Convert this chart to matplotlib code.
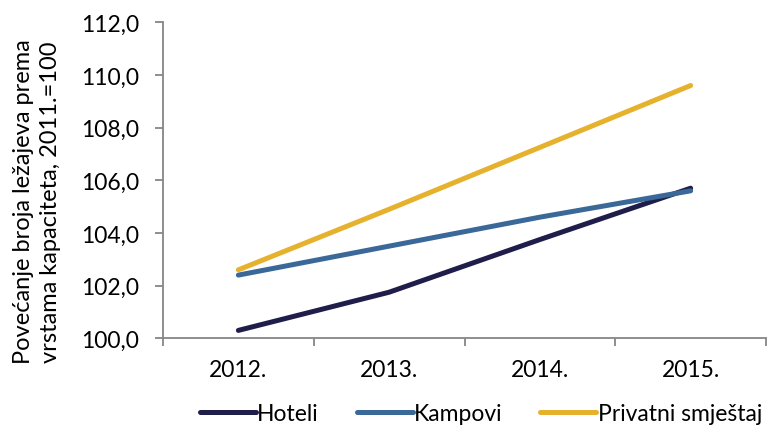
import matplotlib
matplotlib.use("Agg")
import matplotlib.pyplot as plt
from matplotlib.ticker import FuncFormatter, FixedLocator

plt.rcParams['font.family'] = ['Lato', 'DejaVu Sans']

years = ["2012.", "2013.", "2014.", "2015."]
hoteli = [100.3, 101.75, 103.75, 105.7]
kampovi = [102.4, 103.5, 104.6, 105.6]
privatni = [102.6, 104.9, 107.25, 109.6]
series_names = ["Hoteli", "Kampovi", "Privatni smještaj"]
colors = ["#1f1d4a", "#3a6898", "#e6b12d"]
y_label = "Povećanje broja ležajeva prema\nvrstama kapaciteta, 2011.=100"

fs = 16.5
fig = plt.figure(figsize=(7.72, 4.27), dpi=100)
ax = fig.add_axes([163 / 772, 1 - 339.3 / 427, 603 / 772, 316 / 427])

x = list(range(len(years)))
for vals, name, c in zip([hoteli, kampovi, privatni], series_names, colors):
    ax.plot(x, vals, color=c, lw=3.6, solid_capstyle='round', label=name)

ax.set_xlim(-0.5, len(years) - 0.5)
ax.set_ylim(100, 112)
ax.set_yticks([100, 102, 104, 106, 108, 110, 112])
ax.yaxis.set_major_formatter(FuncFormatter(lambda v, p: f"{v:.1f}".replace('.', ',')))

ax.xaxis.set_major_locator(FixedLocator([i - 0.5 for i in range(len(years) + 1)]))
ax.xaxis.set_major_formatter(FuncFormatter(lambda v, p: ""))
ax.xaxis.set_minor_locator(FixedLocator(x))
ax.set_xticklabels(years, minor=True)
ax.tick_params(axis='x', which='minor', length=0, labelsize=fs, pad=15, colors='#000000')
ax.tick_params(axis='x', which='major', length=6, width=1.3, color='#868686')
ax.tick_params(axis='y', length=6, width=1.3, color='#868686', labelsize=fs, pad=11)

for s in ['top', 'right']:
    ax.spines[s].set_visible(False)
for s in ['left', 'bottom']:
    ax.spines[s].set_color('#868686')
    ax.spines[s].set_linewidth(1.3)

fig.text(37 / 772, 1 - 202 / 427, y_label, rotation=90, ha='center', va='center',
         fontsize=17, linespacing=1.38)

fig.legend(loc='center left', bbox_to_anchor=(200 / 772, 1 - 415 / 427), ncol=3,
           frameon=False, fontsize=fs, handlelength=2.45, handletextpad=0.05,
           columnspacing=1.65, borderpad=0, borderaxespad=0)

fig.savefig("out.png", dpi=100)
